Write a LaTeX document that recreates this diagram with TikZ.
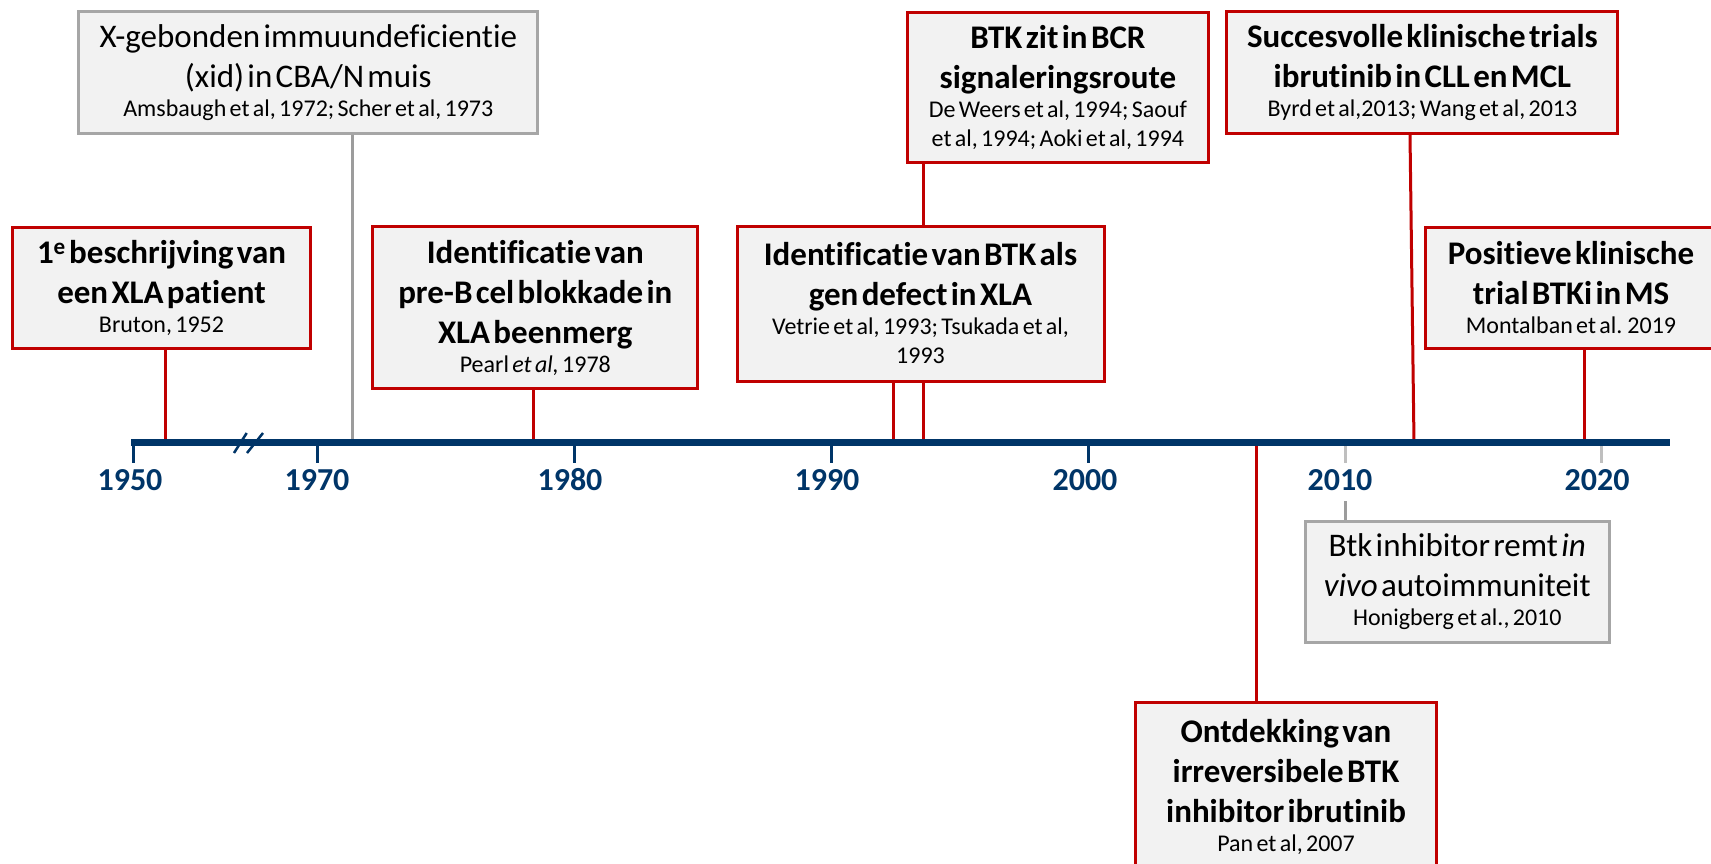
\documentclass[tikz,border=0pt]{standalone}
\usepackage{fontspec}
\setmainfont{Carlito}[Ligatures={NoCommon,NoContextual}, Contextuals=NoAlternate, WordSpace=1.5]
\definecolor{myred}{HTML}{C00000}
\definecolor{navy}{RGB}{0,53,104}
\definecolor{boxfill}{HTML}{F2F2F2}
\definecolor{boxgray}{HTML}{A6A6A6}
\definecolor{linegray}{HTML}{9C9C9C}
\definecolor{tickgray}{HTML}{BFBFBF}
\newcommand{\ttl}{\fontsize{33}{40}\selectfont}
\newcommand{\rf}{\fontsize{24}{29}\selectfont}
\newcommand{\yr}{\fontsize{32}{38}\selectfont}
\tikzset{
  evbox/.style={draw=myred, fill=boxfill, line width=3pt, align=center, inner sep=2pt},
  graybox/.style={draw=boxgray, fill=boxfill, line width=3pt, align=center, inner sep=2pt},
  redline/.style={draw=myred, line width=3pt},
  grayline/.style={draw=linegray, line width=3pt},
  axisline/.style={draw=navy, line width=7pt},
  ticklbl/.style={text=navy, font=\yr\bfseries, anchor=base, inner sep=0pt},
  tickmark/.style={draw=navy, line width=3pt},
  graytick/.style={draw=tickgray, line width=3pt}
}
\begin{document}
\begin{tikzpicture}[x=1pt,y=-1pt]
\clip (0,0) rectangle (1711,864);
\fill[white] (0,0) rectangle (1711,864);

% axis coordinates
\coordinate (ax0) at (131,442.5);
\coordinate (ax1) at (1670,442.5);
\foreach \n/\x in {t1950/133, t1970/317.5, t1980/574, t1990/831.5, t2000/1088, t2010/1345, t2020/1601}{
  \coordinate (\n) at (\x,446);
}

% event points on axis
\coordinate (e1952) at (165,442.5);
\coordinate (e1972) at (352.5,442.5);
\coordinate (e1978) at (533.6,442.5);
\coordinate (e1993) at (893.7,442.5);
\coordinate (e1994) at (923.2,442.5);
\coordinate (e2007) at (1256,442.5);
\coordinate (e2013) at (1414,442.5);
\coordinate (e2019) at (1584,442.5);

% boxes
\node[graybox, minimum width=459, minimum height=122, text width=452] (xid) at (308.3,72.5)
  {{\ttl X-gebonden immuundeficientie\\(xid) in CBA/N muis\par}{\rf Amsbaugh et al, 1972; Scher et al, 1973\par}};
\node[evbox, minimum width=298, minimum height=121, text width=292] (bruton) at (161.5,287.5)
  {{\ttl\bfseries 1\textsuperscript{e} beschrijving van\\een XLA patient\par}{\rf Bruton, 1952\par}};
\node[evbox, minimum width=325, minimum height=162, text width=319] (preb) at (535.3,307.5)
  {{\ttl\bfseries Identificatie van\\pre-B cel blokkade in\\XLA beenmerg\par}{\rf Pearl \textit{et al,} 1978\par}};
\node[evbox, minimum width=301, minimum height=150, text width=295] (bcr) at (1057.9,87.3)
  {{\ttl\bfseries BTK zit in BCR\\signaleringsroute\par}{\rf De Weers et al, 1994; Saouf\\et al, 1994; Aoki et al, 1994\par}};
\node[evbox, minimum width=367, minimum height=155, text width=361] (idbtk) at (920.5,303.5)
  {{\ttl\bfseries Identificatie van BTK als\\gen defect in XLA\par}{\rf Vetrie et al, 1993; Tsukada et al,\\1993\par}};
\node[evbox, minimum width=391, minimum height=122, text width=385] (succ) at (1422.4,72.5)
  {{\ttl\bfseries Succesvolle klinische trials\\ibrutinib in CLL en MCL\par}{\rf Byrd et al,2013; Wang et al, 2013\par}};
\node[evbox, minimum width=292, minimum height=121, text width=286] (pos) at (1571,287.5)
  {{\ttl\bfseries Positieve klinische\\trial BTKi in MS\par}{\rf Montalban et al. 2019\par}};
\node[graybox, minimum width=304, minimum height=121, text width=298] (btk) at (1457.3,581.6)
  {{\ttl Btk inhibitor remt \textit{in}\\\textit{vivo} autoimmuniteit\par}{\rf Honigberg et al., 2010\par}};
\node[evbox, minimum width=301, minimum height=169, text width=295] (ontd) at (1286,787)
  {{\ttl\bfseries Ontdekking van\\irreversibele BTK\\inhibitor ibrutinib\par}{\rf Pan et al, 2007\par}};

% connectors
\draw[redline] (e1952 |- bruton.south) -- (e1952);
\draw[grayline] (e1972 |- xid.south) -- (e1972);
\draw[redline] (e1978 |- preb.south) -- (e1978);
\draw[redline] (e1993 |- idbtk.south) -- (e1993);
\draw[redline] (e1994 |- idbtk.south) -- (e1994);
\draw[redline] (e1994 |- bcr.south) -- (e1994 |- idbtk.north);
\coordinate (succtop) at (1410,0);
\draw[redline] (succtop |- succ.south) -- (e2013);
\draw[redline] (e2019 |- pos.south) -- (e2019);
\draw[redline] (e2007) -- (e2007 |- ontd.north);

% axis
\draw[axisline] (ax0) -- (ax1);
\foreach \n in {t1950,t1970,t1980,t1990,t2000}{
  \draw[tickmark] (\n) -- ++(0,16.5);
}
\foreach \n in {t2010,t2020}{
  \draw[graytick] (\n) -- ++(0,16.5);
}
% axis break marks
\coordinate (brk1) at (234,453);
\coordinate (brk2) at (247,453);
\draw[tickmark, line width=2.5pt] (brk1) -- ++(12.7,-20);
\draw[tickmark, line width=2.5pt] (brk2) -- ++(16,-20);

% year labels
\node[ticklbl] (l1950) at (130,490.7) {1950};
\node[ticklbl] (l1970) at (317,490.7) {1970};
\node[ticklbl] (l1980) at (570,490.7) {1980};
\node[ticklbl] (l1990) at (827,490.7) {1990};
\node[ticklbl] (l2000) at (1085,490.7) {2000};
\node[ticklbl] (l2010) at (1340,490.7) {2010};
\node[ticklbl] (l2020) at (1597,490.7) {2020};

\coordinate (g2010) at (1345,501);
\draw[grayline] (g2010) -- (g2010 |- btk.north);
\end{tikzpicture}
\end{document}
